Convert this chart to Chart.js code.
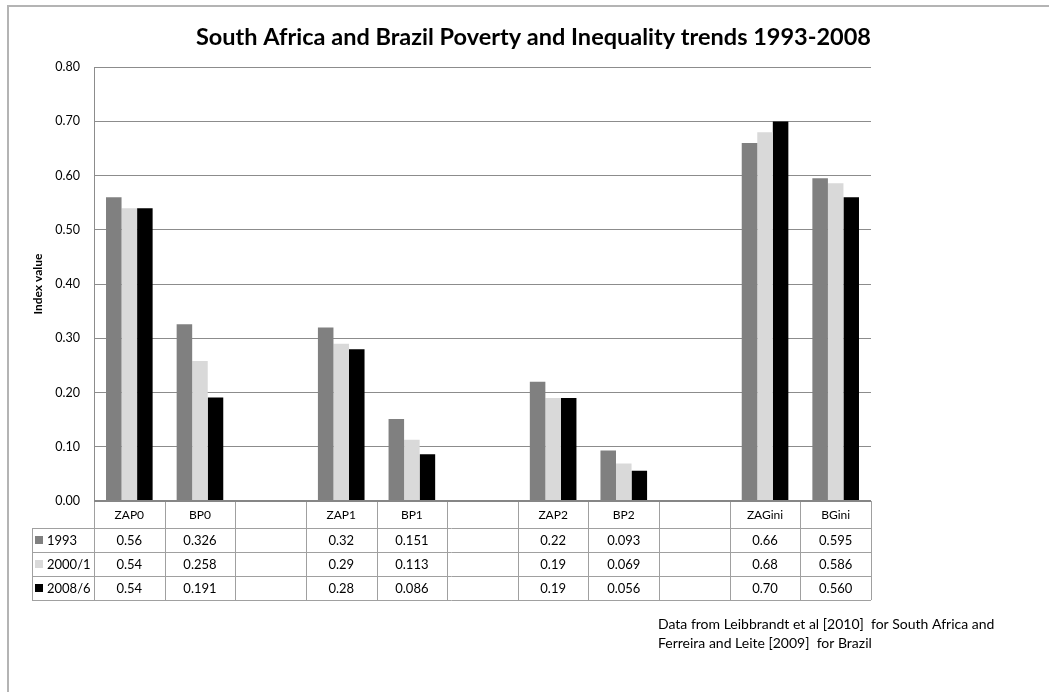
<!DOCTYPE html>
<html>
<head>
<meta charset="utf-8">
<title>South Africa and Brazil Poverty and Inequality trends 1993-2008</title>
<script src="https://cdn.jsdelivr.net/npm/chart.js@4.4.1/dist/chart.umd.min.js"></script>
<style>
    body { margin: 0; background: #fff; }
    #wrap { width: 1049px; height: 692px; }
</style>
</head>
<body>
<div id="wrap"><canvas id="povertyChart" width="1049" height="692"></canvas></div>
<script>
// categories (blank ones are the gaps between the groups)
const categories = ['ZAP0', 'BP0', '', 'ZAP1', 'BP1', '', 'ZAP2', 'BP2', '', 'ZAGini', 'BGini'];
// how many decimals the data table shows for each category
const decimals = [2, 3, null, 2, 3, null, 2, 3, null, 2, 3];

const values1993 = [0.56, 0.326, null, 0.32, 0.151, null, 0.22, 0.093, null, 0.66, 0.595];
const values2000 = [0.54, 0.258, null, 0.29, 0.113, null, 0.19, 0.069, null, 0.68, 0.586];
const values2008 = [0.54, 0.191, null, 0.28, 0.086, null, 0.19, 0.056, null, 0.70, 0.560];

const seriesNames = ['1993', '2000/1', '2008/6'];
const seriesColors = ['#808080', '#d9d9d9', '#000000'];

const yMin = 0;
const yMax = 0.8;
const yStep = 0.1;

const noteLines = [
    'Data from Leibbrandt et al [2010]  for South Africa and',
    'Ferreira and Leite [2009]  for Brazil'
];

const FONT = 'Lato, "Open Sans", sans-serif';

document.addEventListener('DOMContentLoaded', function() {
    const canvas = document.getElementById('povertyChart');
    const allValues = [values1993, values2000, values2008];

    // frame, data table with legend keys, and the source note
    const dataTablePlugin = {
        id: 'dataTable',
        afterDraw: function(chart) {
            const ctx = chart.ctx;
            const area = chart.chartArea;
            const xScale = chart.scales.x;
            const colWidth = (area.right - area.left) / categories.length;
            const headerBottom = area.bottom + 27;
            const rowHeight = 24;
            const tableBottom = headerBottom + rowHeight * seriesNames.length;
            const legendLeft = 32;

            ctx.save();

            // outer frame (only left and top edges show)
            ctx.strokeStyle = '#b4b4b4';
            ctx.lineWidth = 2;
            ctx.beginPath();
            ctx.moveTo(8, 692);
            ctx.lineTo(8, 6);
            ctx.lineTo(1049, 6);
            ctx.stroke();

            // table grid
            ctx.strokeStyle = '#a0a0a0';
            ctx.lineWidth = 1;
            ctx.beginPath();
            for (let i = 0; i <= categories.length; i++) {
                const x = Math.round(area.left + i * colWidth) + 0.5;
                ctx.moveTo(x, area.bottom);
                ctx.lineTo(x, tableBottom);
            }
            for (let r = 0; r <= seriesNames.length; r++) {
                const y = Math.round(headerBottom + r * rowHeight) + 0.5;
                ctx.moveTo(legendLeft, y);
                ctx.lineTo(area.right, y);
            }
            ctx.moveTo(legendLeft + 0.5, headerBottom);
            ctx.lineTo(legendLeft + 0.5, tableBottom);
            ctx.stroke();

            // axis line on top of the table
            ctx.strokeStyle = '#868686';
            ctx.lineWidth = 2;
            ctx.beginPath();
            ctx.moveTo(area.left, area.bottom);
            ctx.lineTo(area.right, area.bottom);
            ctx.stroke();

            ctx.fillStyle = '#000';
            ctx.textAlign = 'center';
            ctx.textBaseline = 'middle';
            ctx.font = '12px ' + FONT;
            categories.forEach(function(cat, i) {
                ctx.fillText(cat, xScale.getPixelForValue(i), area.bottom + 14);
            });

            ctx.font = '13px ' + FONT;
            allValues.forEach(function(values, r) {
                const y = headerBottom + r * rowHeight + rowHeight / 2 + 1;
                values.forEach(function(v, i) {
                    if (v === null) return;
                    ctx.fillText(v.toFixed(decimals[i]), xScale.getPixelForValue(i), y);
                });
            });

            // legend keys in the first column
            ctx.textAlign = 'left';
            seriesNames.forEach(function(name, r) {
                const y = headerBottom + r * rowHeight + rowHeight / 2;
                ctx.fillStyle = seriesColors[r];
                ctx.fillRect(legendLeft + 3, y - 4, 8, 8);
                ctx.fillStyle = '#000';
                ctx.fillText(name, legendLeft + 15, y + 1);
            });

            // source note
            ctx.font = '14px ' + FONT;
            noteLines.forEach(function(line, i) {
                ctx.fillText(line, 658, 624 + i * 19);
            });

            ctx.restore();
        }
    };

    const povertyChart = new Chart(canvas, {
        type: 'bar',
        data: {
            labels: categories,
            datasets: seriesNames.map(function(name, i) {
                return {
                    label: name,
                    data: allValues[i],
                    backgroundColor: seriesColors[i],
                    borderWidth: 0,
                    categoryPercentage: 0.66,
                    barPercentage: 1.0
                };
            })
        },
        options: {
            responsive: false,
            animation: false,
            layout: {
                padding: { top: 20, left: 30, right: 178, bottom: 191 }
            },
            plugins: {
                legend: { display: false },
                tooltip: { enabled: false },
                title: {
                    display: true,
                    align: 'end',
                    text: 'South Africa and Brazil Poverty and Inequality trends 1993-2008',
                    color: '#000',
                    font: { family: FONT, size: 23.5, weight: 'bold' },
                    padding: { top: 3, bottom: 16 }
                }
            },
            scales: {
                x: {
                    display: false
                },
                y: {
                    min: yMin,
                    max: yMax,
                    afterFit: function(scale) {
                        scale.width = 64;
                    },
                    ticks: {
                        stepSize: yStep,
                        padding: 14,
                        color: '#000',
                        font: { family: FONT, size: 12.5 },
                        callback: function(value) {
                            return Number(value).toFixed(2);
                        }
                    },
                    grid: {
                        color: '#8c8c8c',
                        lineWidth: 1,
                        drawTicks: false
                    },
                    border: {
                        color: '#8c8c8c',
                        width: 1
                    },
                    title: {
                        display: true,
                        text: 'Index value',
                        color: '#000',
                        font: { family: FONT, size: 12, weight: 'bold' },
                        padding: { top: 1, bottom: 0 }
                    }
                }
            }
        },
        plugins: [dataTablePlugin]
    });
});
</script>
</body>
</html>
